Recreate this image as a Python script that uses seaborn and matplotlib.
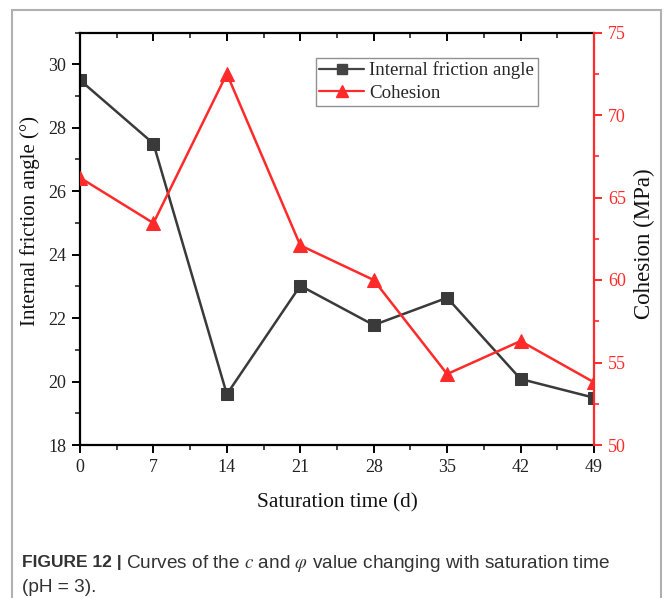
import matplotlib
matplotlib.use("Agg")
import matplotlib.pyplot as plt
import seaborn as sns
import pandas as pd
from matplotlib.ticker import MultipleLocator
from matplotlib.patches import Rectangle
from matplotlib.lines import Line2D

# Data
days = [0, 7, 14, 21, 28, 35, 42, 49]
friction_angle = [29.5, 27.5, 19.6, 23.02, 21.78, 22.64, 20.08, 19.49]
cohesion = [66.2, 63.45, 72.5, 62.1, 60.0, 54.3, 56.3, 53.8]

df = pd.DataFrame({"day": days, "phi": friction_angle, "c": cohesion})

sns.set_style("ticks")
plt.rcParams['font.family'] = ['Liberation Serif', 'DejaVu Serif']
plt.rcParams['mathtext.fontset'] = 'stix'

W, H = 664, 598
fig = plt.figure(figsize=(W / 100, H / 100), dpi=100)

ax = fig.add_axes([80 / W, 1 - 445 / H, (594 - 80) / W, (445 - 32.5) / H])
ax2 = ax.twinx()

black = "#3a3a3a"
red = "#ff2a2a"

sns.lineplot(data=df, x="day", y="phi", ax=ax, color=black, marker="s",
             markersize=8, markeredgecolor=black, linewidth=1.8, legend=False)
sns.lineplot(data=df, x="day", y="c", ax=ax2, color=red, marker="^",
             markersize=10, markeredgecolor=red, linewidth=1.8, legend=False)

ax.set_xlim(0, 49)
ax.set_ylim(18, 31)
ax2.set_ylim(50, 75)

ax.xaxis.set_major_locator(MultipleLocator(7))
ax.xaxis.set_minor_locator(MultipleLocator(3.5))
ax.yaxis.set_major_locator(MultipleLocator(2))
ax.yaxis.set_minor_locator(MultipleLocator(1))
ax2.yaxis.set_major_locator(MultipleLocator(5))
ax2.yaxis.set_minor_locator(MultipleLocator(2.5))

for sp in ["left", "bottom", "top"]:
    ax.spines[sp].set_color("black")
    ax.spines[sp].set_linewidth(1.6)
ax.spines["right"].set_visible(False)
for sp in ["left", "bottom", "top"]:
    ax2.spines[sp].set_visible(False)
ax2.spines["right"].set_color(red)
ax2.spines["right"].set_linewidth(1.6)

ax.tick_params(axis="both", which="major", direction="out", length=6, width=1.4,
               labelsize=13, colors="black", labelcolor="#222222", pad=4)
ax.tick_params(axis="both", which="minor", direction="out", length=3.5, width=1.2)
ax.tick_params(axis="x", which="both", top=True, labeltop=False)
ax2.tick_params(axis="y", which="major", direction="out", length=6, width=1.4,
                labelsize=13, colors=red, pad=4)
ax2.tick_params(axis="y", which="minor", direction="out", length=3.5, width=1.2, colors=red)

# Top ticks inward
for t in ax.xaxis.get_major_ticks() + ax.xaxis.get_minor_ticks():
    t.tick2line.set_marker(3)  # TICKDOWN

ax.set_xlabel("Saturation time (d)", fontsize=15.3, color="#111111")
ax.set_ylabel("Internal friction angle (°)", fontsize=15, color="#111111")
ax2.set_ylabel("Cohesion (MPa)", fontsize=16.5, color="#111111")
ax.xaxis.set_label_coords(0.501, -0.141)
ax.yaxis.set_label_coords(-0.097, 0.542)
ax2.yaxis.set_label_coords(1.099, 0.487)
ax.xaxis.label.set_va("center")
ax.yaxis.label.set_va("center")
ax2.yaxis.label.set_va("center")

handles = [
    Line2D([], [], color="#444444", marker="s", markersize=6.5, linewidth=1.6),
    Line2D([], [], color=red, marker="^", markersize=8.5, linewidth=1.6),
]
leg = ax.legend(handles, ["Internal friction angle", "Cohesion"],
                loc="upper left", bbox_to_anchor=(0.4586, 0.939), fontsize=13.6,
                frameon=True, fancybox=False, edgecolor="#777777",
                borderpad=0.2, handlelength=2.35, handletextpad=0.28,
                labelspacing=0.28, borderaxespad=0)
leg.get_frame().set_linewidth(1.0)

# Figure frame
fig.patches.append(Rectangle((12 / W, -0.01), (661 - 12) / W, 1 - 10 / H + 0.01,
                             transform=fig.transFigure, fill=False,
                             edgecolor="#b0b0b0", linewidth=1.5))

# Caption
sans = ["Liberation Sans", "DejaVu Sans"]
cap_y1 = 1 - 563 / H
fig.text(22 / W, cap_y1, "FIGURE 12 |", fontsize=12.5, fontweight="bold",
         family=sans, color="#333333", va="center")
fig.text(126 / W, cap_y1,
         "Curves of the $\\it{c}$ and $\\it{\\varphi}$ value changing with saturation time",
         fontsize=13.7, family=sans, color="#333333", va="center")
fig.text(22 / W, 1 - 588 / H, "(pH = 3).", fontsize=13.7,
         family=sans, color="#333333", va="center")

fig.savefig("out.png", dpi=100)
